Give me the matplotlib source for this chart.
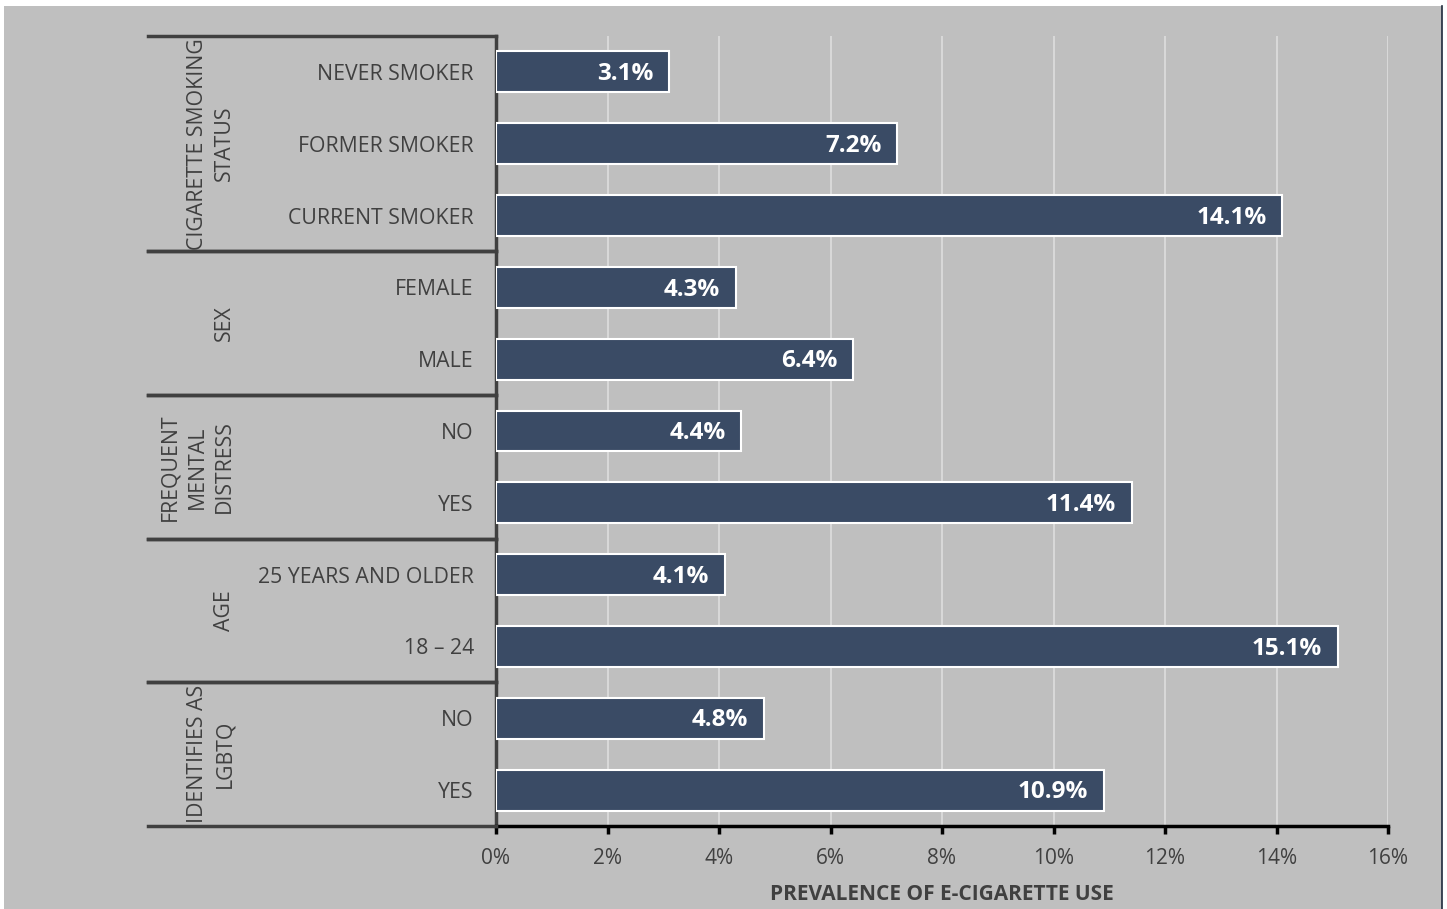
import matplotlib.pyplot as plt
import matplotlib.transforms as mtransforms
from matplotlib.patches import Rectangle
from matplotlib.lines import Line2D

plt.rcParams['font.family'] = ['Open Sans', 'DejaVu Sans']

# data (top to bottom)
categories = ['NEVER SMOKER', 'FORMER SMOKER', 'CURRENT SMOKER',
              'FEMALE', 'MALE',
              'NO', 'YES',
              '25 YEARS AND OLDER', '18 – 24',
              'NO', 'YES']
values = [3.1, 7.2, 14.1, 4.3, 6.4, 4.4, 11.4, 4.1, 15.1, 4.8, 10.9]
groups = ['CIGARETTE SMOKING\nSTATUS', 'SEX', 'FREQUENT\nMENTAL\nDISTRESS',
          'AGE', 'IDENTIFIES AS\nLGBTQ']
group_sizes = [3, 2, 2, 2, 2]
xticks = [0, 2, 4, 6, 8, 10, 12, 14, 16]

bg = '#BFBFBF'
bar_color = '#3A4B65'
text_color = '#404040'

W, H = 1447, 909
fig = plt.figure(figsize=(W / 100, H / 100), dpi=100, facecolor='white')
fig.add_artist(Rectangle((4 / W, 0), 1438 / W, 903 / H, transform=fig.transFigure,
                         facecolor=bg, edgecolor='none', zorder=0))
fig.add_artist(Line2D([1442 / W, 1442 / W], [0, 903 / H], transform=fig.transFigure,
                      color='#1F2A3C', lw=1.2))

ax = fig.add_axes([496 / W, 1 - 826 / H, (1388 - 496) / W, (826 - 36) / H])
ax.set_facecolor('none')

y = list(range(len(categories)))
ax.barh(y, values, height=0.57, color=bar_color, edgecolor='white', linewidth=1.5, zorder=3)
for yi, v in zip(y, values):
    ax.text(v - 0.28, yi + 0.03, f'{v:.1f}%', ha='right', va='center', color='white',
            fontsize=17.5, fontweight='bold', zorder=4)

ax.set_xlim(0, 16)
ax.set_ylim(len(categories) - 0.5, -0.5)
ax.set_xticks(xticks)
ax.set_xticklabels([f'{t}%' for t in xticks], fontsize=15, color=text_color)
ax.xaxis.grid(True, color='#D9D9D9', lw=1.4, zorder=1)
ax.set_axisbelow(True)
ax.tick_params(axis='x', length=6, width=2.5, color='black', pad=10)
ax.tick_params(axis='y', length=0, pad=16)
ax.set_yticks(y)
ax.set_yticklabels(categories, fontsize=15.3, color=text_color)

for s in ['top', 'right']:
    ax.spines[s].set_visible(False)
ax.spines['bottom'].set_color('black')
ax.spines['bottom'].set_linewidth(2.5)
ax.spines['left'].set_color(text_color)
ax.spines['left'].set_linewidth(2.5)

ax.set_xlabel('PREVALENCE OF E-CIGARETTE USE', fontsize=15, fontweight='bold',
              color=text_color, labelpad=11)

# group separators and labels
trans = mtransforms.blended_transform_factory(fig.transFigure, ax.transData)
start = -0.5
for name, n in zip(groups, group_sizes):
    end = start + n
    for b in (start, end):
        ax.add_line(Line2D([148 / W, 496 / W], [b, b], transform=trans, color=text_color,
                           lw=2.5, clip_on=False, zorder=5))
    ax.text(235 / W, (start + end) / 2, name, transform=trans, rotation=90,
            ha='right', va='center', multialignment='center', fontsize=15.3,
            color=text_color, linespacing=1.4)
    start = end

fig.savefig('out.png', dpi=100, facecolor=fig.get_facecolor())
